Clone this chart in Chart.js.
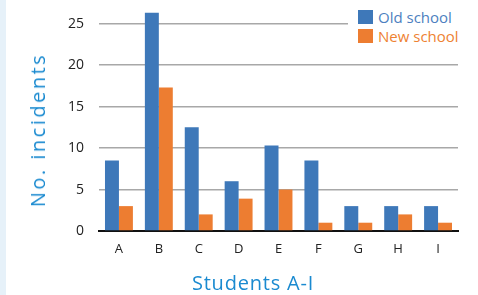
<!DOCTYPE html>
<html lang="en">
<head>
  <meta charset="UTF-8" />
  <title>No. incidents per student</title>
  <script src="https://cdn.jsdelivr.net/npm/chart.js"></script>
  <style>
    html, body { margin: 0; padding: 0; background: #fff; }
    body { width: 478px; height: 295px; position: relative; overflow: hidden; font-family: "Open Sans", sans-serif; }
    .strip { position: absolute; left: 0; top: 0; width: 6px; height: 295px; background: #e6f1f9; }
    #wrap { position: absolute; left: 0; top: 0; width: 478px; height: 295px; }
    .legend { position: absolute; left: 348px; top: 5px; background: #fff; padding: 2px 4px 2px 10px; }
    .legend div { display: flex; align-items: center; height: 19px; font-size: 15px; }
    .legend span.box { width: 15px; height: 14px; margin-right: 5px; display: inline-block; }
    .axis-title { position: absolute; color: #1a8ad0; font-size: 20px; white-space: nowrap; line-height: 1; }
    .x-title { left: 253px; top: 283px; transform: translate(-50%, -50%); letter-spacing: 0.8px; }
    .y-title { left: 38px; top: 130px; transform: translate(-50%, -50%) rotate(-90deg); letter-spacing: 2.5px; }
  </style>
</head>
<body>
  <div class="strip"></div>
  <div id="wrap"><canvas id="chart" width="478" height="295"></canvas></div>
  <div class="legend">
    <div style="color:#4d7fc0"><span class="box" style="background:#3e78b9"></span>Old school</div>
    <div style="color:#ee8232"><span class="box" style="background:#ed7d31"></span>New school</div>
  </div>
  <div class="axis-title y-title">No. incidents</div>
  <div class="axis-title x-title">Students A-I</div>

  <script>
    // данные с картинки
    const students = ['A', 'B', 'C', 'D', 'E', 'F', 'G', 'H', 'I'];
    const oldSchool = [8.5, 26.3, 12.5, 6, 10.3, 8.5, 3, 3, 3];
    const newSchool = [3, 17.3, 2, 3.9, 5, 1, 1, 2, 1];
    const yTicks = [0, 5, 10, 15, 20, 25];

    const ctx = document.getElementById('chart').getContext('2d');
    const chart = new Chart(ctx, {
      type: 'bar',
      data: {
        labels: students,
        datasets: [
          { label: 'Old school', data: oldSchool, backgroundColor: '#3e78b9' },
          { label: 'New school', data: newSchool, backgroundColor: '#ed7d31' },
        ],
      },
      options: {
        responsive: false,
        animation: false,
        layout: { padding: { left: 6, right: 20, top: 0, bottom: 0 } },
        datasets: { bar: { categoryPercentage: 0.7, barPercentage: 1.0 } },
        plugins: {
          legend: { display: false },
          tooltip: { enabled: false },
        },
        scales: {
          y: {
            min: 0,
            max: 27,
            afterBuildTicks: (axis) => {
              axis.ticks = yTicks.map(v => ({ value: v }));
            },
            // фиксированная ширина оси и отступ сверху (padding тиков иначе раздувает верх)
            afterFit: (axis) => { axis.width = 93; axis.paddingTop = 7; },
            ticks: { color: '#222', font: { family: 'Open Sans', size: 14 }, padding: 15 },
            grid: { color: '#a8a8a8', lineWidth: 1.5, drawTicks: false },
            border: { display: false },
          },
          x: {
            afterFit: (axis) => { axis.height = 64; },
            ticks: { color: '#222', font: { family: 'Open Sans', size: 13 }, padding: 2 },
            grid: { display: false },
            border: { color: '#111', width: 2 },
          },
        },
      },
    });
  </script>
</body>
</html>
